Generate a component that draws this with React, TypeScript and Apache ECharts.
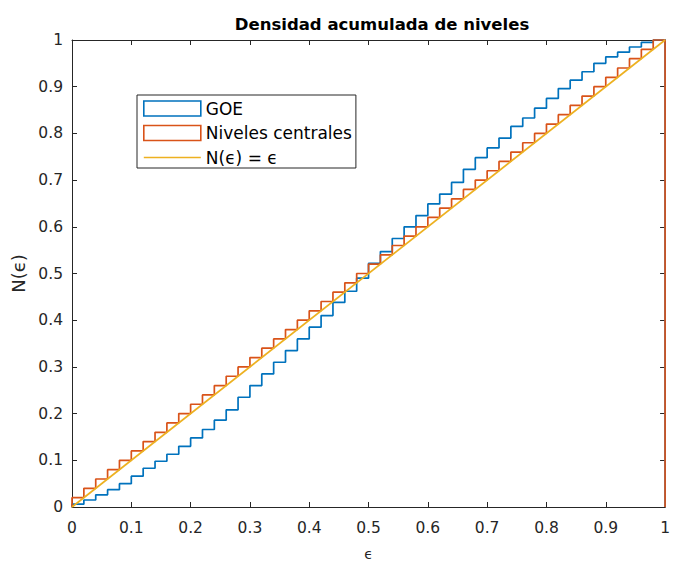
import React, { useEffect, useRef } from "react";
import * as echarts from "echarts";

// ---- Data ----
const binWidth = 0.02;

// GOE cumulative density per bin (bin k spans [k*0.02, (k+1)*0.02])
const goeCdf = [
  0.006, 0.015, 0.026, 0.037, 0.05, 0.066, 0.083, 0.098, 0.113, 0.13,
  0.148, 0.166, 0.186, 0.208, 0.235, 0.26, 0.285, 0.31, 0.335, 0.36,
  0.385, 0.41, 0.438, 0.462, 0.49, 0.522, 0.547, 0.575, 0.6, 0.624,
  0.649, 0.67, 0.695, 0.723, 0.748, 0.769, 0.79, 0.815, 0.833, 0.854,
  0.875, 0.896, 0.914, 0.932, 0.95, 0.964, 0.974, 0.985, 0.995, 1.0,
];

// "Niveles centrales" cumulative density per bin
const centralCdf = [
  0.02, 0.04, 0.06, 0.08, 0.1, 0.12, 0.14, 0.16, 0.18, 0.2,
  0.22, 0.24, 0.26, 0.28, 0.3, 0.32, 0.34, 0.36, 0.38, 0.4,
  0.42, 0.44, 0.46, 0.48, 0.5, 0.52, 0.54, 0.56, 0.58, 0.6,
  0.62, 0.64, 0.66, 0.68, 0.7, 0.72, 0.74, 0.76, 0.78, 0.8,
  0.82, 0.84, 0.86, 0.88, 0.9, 0.92, 0.94, 0.96, 0.98, 1.0,
];

// Reference line N(e) = e
const diagonalX = [0, 1];
const diagonalY = [0, 1];

const tickLabels = ["0", "0.1", "0.2", "0.3", "0.4", "0.5", "0.6", "0.7", "0.8", "0.9", "1"];

const seriesNames = ["GOE", "Niveles centrales", "N(\u03f5) = \u03f5"];

// Histogram "stairs" outline (closes down to 0 at both ends)
function stairs(vals: number[]): number[][] {
  const pts: number[][] = [[0, 0]];
  vals.forEach((v, k) => {
    pts.push([k * binWidth, v]);
    pts.push([(k + 1) * binWidth, v]);
  });
  pts.push([vals.length * binWidth, 0]);
  return pts;
}

const AX = "#262626";
const FONT = "DejaVu Sans, sans-serif";
const BLUE = "#0072BD";
const ORANGE = "#D95319";
const YELLOW = "#EDB120";
const LW = 1.7;

export default function App() {
  const ref = useRef<HTMLDivElement>(null);

  useEffect(() => {
    if (!ref.current) return;
    const chart = echarts.init(ref.current, undefined, { renderer: "svg" });

    const fmt = (v: number) => tickLabels[Math.round(v * 10)] ?? String(v);

    const axisCommon = {
      type: "value" as const,
      min: 0,
      max: 1,
      interval: 0.1,
      splitLine: { show: false },
      axisLine: { show: true, onZero: false, lineStyle: { color: AX, width: 1 } },
      axisTick: { show: true, inside: true, length: 5, lineStyle: { color: AX, width: 1 } },
    };

    chart.setOption({
      animation: false,
      backgroundColor: "#ffffff",
      title: {
        text: "Densidad acumulada de niveles",
        left: 377,
        textAlign: "center",
        top: 11,
        textStyle: { fontFamily: FONT, fontSize: 16.5, fontWeight: "bold", color: "#000" },
      },
      grid: { left: 72, right: 2, top: 40, bottom: 55, containLabel: false },
      legend: {
        orient: "vertical",
        left: 137,
        top: 95,
        padding: [5, 4, 2, 6],
        itemGap: 7.5,
        itemWidth: 57,
        itemHeight: 15,
        backgroundColor: "#ffffff",
        borderColor: AX,
        borderWidth: 1,
        borderRadius: 0,
        textStyle: { fontFamily: FONT, fontSize: 17, color: "#000" },
        data: [
          { name: seriesNames[0], icon: "rect", itemStyle: { color: "#ffffff", borderColor: BLUE, borderWidth: 1.6 } },
          { name: seriesNames[1], icon: "rect", itemStyle: { color: "#ffffff", borderColor: ORANGE, borderWidth: 1.6 } },
          {
            name: seriesNames[2],
            icon: "path://M0,0 L57,0 L57,1.6 L0,1.6 Z",
            itemStyle: { color: YELLOW, borderWidth: 0 },
          },
        ],
      },
      xAxis: [
        {
          ...axisCommon,
          position: "bottom",
          axisLabel: { color: AX, fontFamily: FONT, fontSize: 15.5, margin: 13, formatter: fmt },
          name: "\u03f5",
          nameLocation: "middle",
          nameGap: 40,
          nameTextStyle: { color: AX, fontFamily: FONT, fontSize: 14 },
        },
        {
          ...axisCommon,
          position: "top",
          axisLabel: { show: false },
        },
      ],
      yAxis: [
        {
          ...axisCommon,
          position: "left",
          axisLabel: { color: AX, fontFamily: FONT, fontSize: 15.5, margin: 9, formatter: fmt },
          name: "N(\u03f5)",
          nameLocation: "middle",
          nameGap: 45,
          nameTextStyle: { color: AX, fontFamily: FONT, fontSize: 18 },
        },
        {
          ...axisCommon,
          position: "right",
          axisLabel: { show: false },
        },
      ],
      series: [
        {
          name: seriesNames[0],
          type: "line",
          xAxisIndex: 0,
          yAxisIndex: 0,
          data: stairs(goeCdf),
          showSymbol: false,
          symbol: "none",
          clip: false,
          color: BLUE,
          lineStyle: { color: BLUE, width: LW },
        },
        {
          name: seriesNames[1],
          type: "line",
          xAxisIndex: 0,
          yAxisIndex: 0,
          data: stairs(centralCdf),
          showSymbol: false,
          symbol: "none",
          clip: false,
          color: ORANGE,
          lineStyle: { color: ORANGE, width: LW },
        },
        {
          name: seriesNames[2],
          type: "line",
          xAxisIndex: 0,
          yAxisIndex: 0,
          data: diagonalX.map((x, i) => [x, diagonalY[i]]),
          showSymbol: false,
          symbol: "none",
          clip: false,
          color: YELLOW,
          lineStyle: { color: YELLOW, width: LW },
        },
      ],
    });

    return () => chart.dispose();
  }, []);

  return (
    <div
      ref={ref}
      style={{ position: "absolute", left: 0, top: 0, width: 673, height: 566, background: "#fff" }}
    />
  );
}
